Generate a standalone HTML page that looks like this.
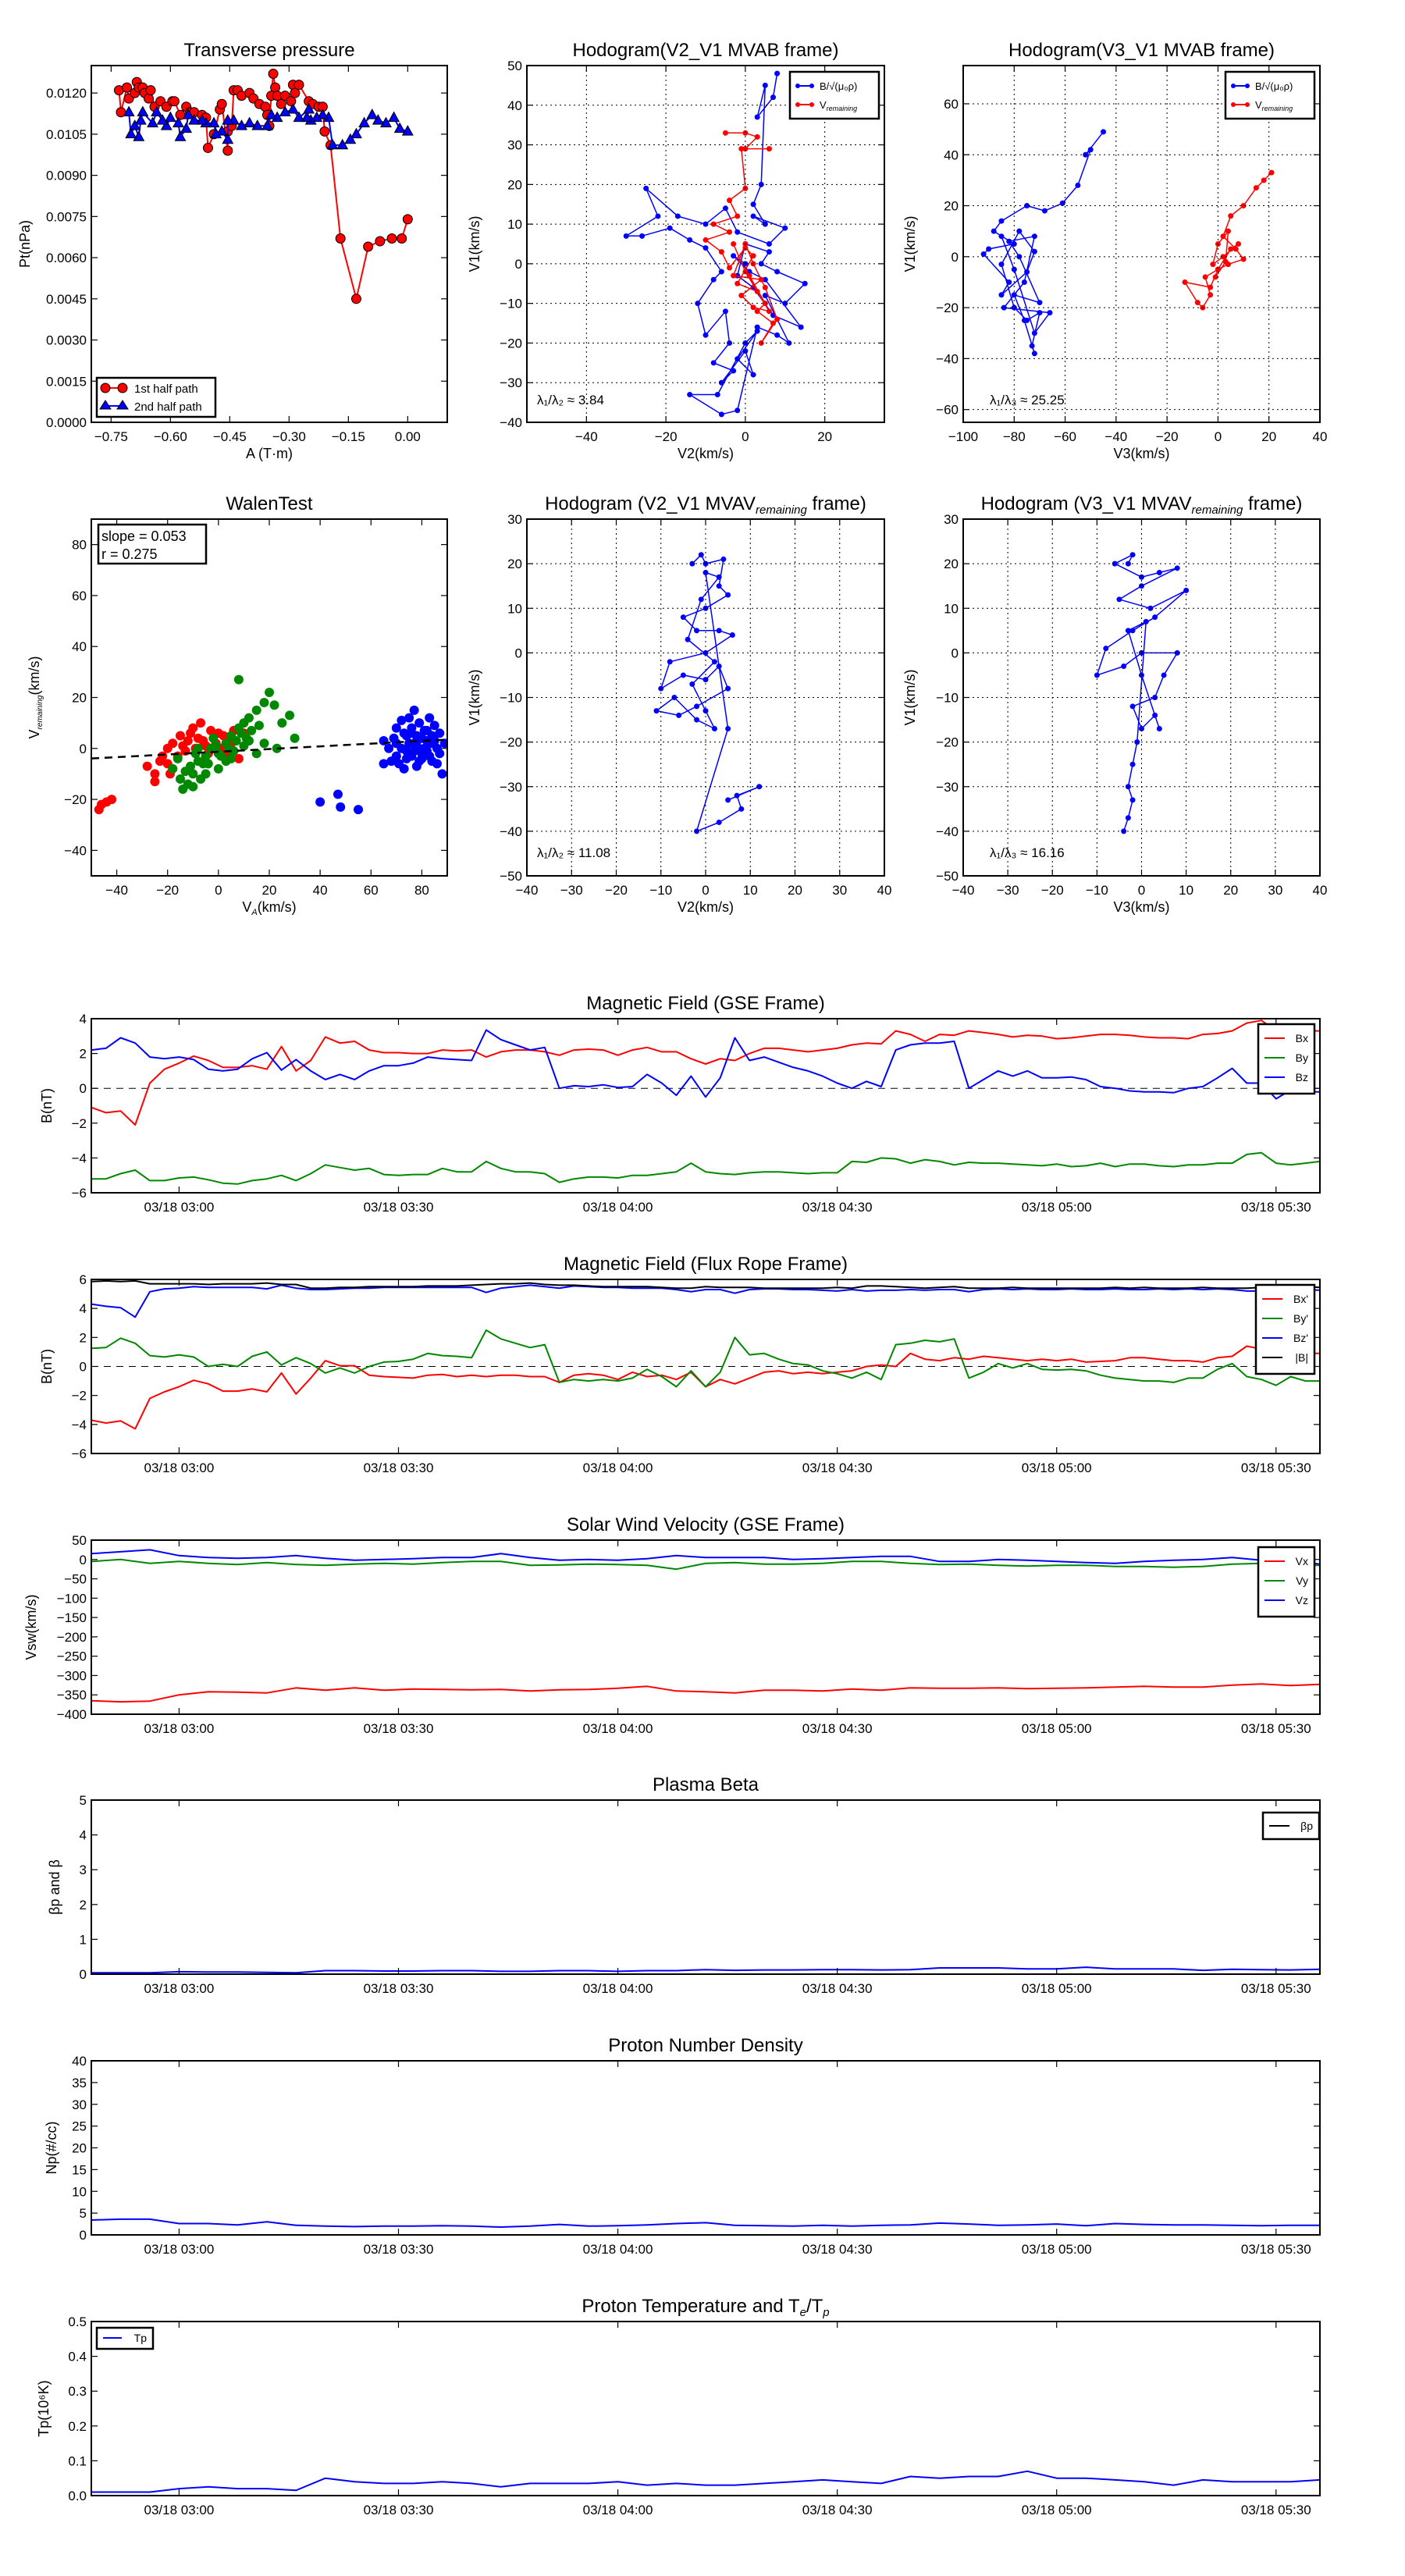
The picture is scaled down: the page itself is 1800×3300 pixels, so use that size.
<!DOCTYPE html>
<html><head><meta charset="utf-8"><style>
html,body{margin:0;padding:0;background:#fff}
svg{display:block;font-family:"Liberation Sans","DejaVu Sans",sans-serif}
</style></head><body>
<svg id="fig" width="1800" height="3300" viewBox="0 0 1800 3300" xmlns="http://www.w3.org/2000/svg"></svg>
<script>
// ---------------- DATA ----------------
const ptRedA=[-0.73,-0.725,-0.71,-0.705,-0.69,-0.685,-0.68,-0.67,-0.665,-0.655,-0.65,-0.64,-0.625,-0.61,-0.595,-0.59,-0.575,-0.56,-0.55,-0.54,-0.52,-0.51,-0.505,-0.49,-0.475,-0.47,-0.455,-0.455,-0.445,-0.44,-0.43,-0.42,-0.40,-0.39,-0.375,-0.36,-0.355,-0.35,-0.345,-0.34,-0.335,-0.33,-0.32,-0.31,-0.295,-0.29,-0.285,-0.275,-0.25,-0.24,-0.225,-0.215,-0.21,-0.195,-0.17,-0.13,-0.1,-0.07,-0.04,-0.015,0];
const ptRedP=[0.0121,0.0113,0.0122,0.0118,0.0120,0.0124,0.0122,0.0122,0.0120,0.0118,0.0121,0.0115,0.0117,0.0115,0.0117,0.0117,0.0112,0.0115,0.0113,0.0113,0.0112,0.0111,0.0100,0.0105,0.0114,0.0116,0.0099,0.0106,0.0108,0.0121,0.0121,0.0119,0.0120,0.0118,0.0116,0.0115,0.0112,0.0108,0.0119,0.0127,0.0122,0.0119,0.0116,0.0119,0.0117,0.0123,0.0120,0.0123,0.0117,0.0116,0.0115,0.0115,0.0106,0.0101,0.0067,0.0045,0.0064,0.0066,0.0067,0.0067,0.0074];
const ptBlueA=[0,-0.02,-0.035,-0.055,-0.075,-0.09,-0.11,-0.13,-0.145,-0.165,-0.19,-0.2,-0.215,-0.23,-0.245,-0.255,-0.25,-0.275,-0.29,-0.31,-0.33,-0.345,-0.355,-0.38,-0.4,-0.42,-0.44,-0.455,-0.455,-0.47,-0.485,-0.49,-0.51,-0.52,-0.54,-0.555,-0.56,-0.575,-0.58,-0.6,-0.61,-0.62,-0.635,-0.645,-0.67,-0.675,-0.68,-0.69,-0.7,-0.705];
const ptBlueP=[0.0106,0.0107,0.0111,0.0109,0.0110,0.0112,0.0109,0.0105,0.0103,0.0101,0.0101,0.0111,0.0112,0.0111,0.0110,0.0111,0.0114,0.0111,0.0114,0.0113,0.0111,0.0112,0.0108,0.0108,0.0109,0.0108,0.0110,0.0110,0.0103,0.0106,0.0105,0.0109,0.0109,0.0110,0.0110,0.0112,0.0107,0.0104,0.0109,0.0111,0.0108,0.0110,0.0113,0.0109,0.0113,0.0110,0.0104,0.0108,0.0105,0.0113];

const h1BlueX=[8,7,3,5,4,2,5,2,10,6,-2,-5,-10,-17,-25,-22,-30,-26,-19,-14,-10,-6,-8,-12,-10,-5,-4,-8,-3,-6,0,2,-2,3,0,-7,-14,-6,-2,3,8,11,5,10,15,8,4,6,0,-2,2,7,14,5,1,-3,0];
const h1BlueY=[48,42,37,45,20,15,10,12,9,5,8,14,10,12,19,12,7,7,9,6,4,-2,-4,-10,-18,-12,-20,-25,-27,-30,-22,-28,-24,-17,-20,-33,-33,-38,-37,-16,-18,-20,-8,-10,-5,-2,0,3,5,-3,-6,-13,-16,-4,-2,2,0];
const h1RedX=[-5,0,3,0,6,-1,0,-4,-2,-8,-4,-10,-6,-4,0,2,-2,3,1,5,3,7,4,8,5,2,0,-3,4,-1,2,6,0,-3];
const h1RedY=[33,33,32,29,29,29,19,16,12,10,8,6,3,-1,4,2,-5,-7,-3,-10,-12,-15,-20,-14,-6,0,5,-3,-4,-8,-11,-12,-2,5];
const h2BlueX=[-45,-52,-50,-55,-61,-68,-75,-85,-88,-80,-90,-92,-82,-85,-75,-72,-78,-85,-80,-75,-70,-73,-72,-76,-80,-70,-78,-82,-72,-76,-84,-66,-72,-80,-85];
const h2BlueY=[49,40,42,28,21,18,20,14,10,5,3,1,-10,-15,-6,2,10,-3,-20,-25,-22,-35,-38,-25,-15,-18,0,6,8,-10,-20,-22,-30,-5,8];
const h2RedX=[21,18,15,10,5,2,7,10,4,0,-5,-3,-6,-8,-13,-3,0,5,8,2,-2,0,4,3,-1];
const h2RedY=[33,30,27,20,16,8,3,-1,-3,-5,-8,-15,-20,-18,-10,-12,-5,3,5,0,-3,5,10,-2,-8];
const h4X=[-3,-1,0,4,3,5,0,-5,-2,3,6,0,-8,-10,-5,0,3,5,-2,-6,-11,-7,-2,2,0,-3,2,-4,-1,3,0,5,-2,3,8,7,12,5];
const h4Y=[20,22,20,21,15,13,10,8,5,5,4,0,-2,-8,-5,-6,-3,-8,-12,-14,-13,-10,-15,-17,-13,-7,-2,3,12,17,18,-17,-40,-38,-35,-32,-30,-33];
const h5X=[-3,-2,-6,0,4,8,0,-5,2,10,3,-2,-8,-10,-4,0,8,5,3,-2,0,3,4,0,-3,1,-1,-2,-3,-2,-3,-4];
const h5Y=[20,22,20,17,18,19,15,12,10,14,8,5,1,-5,-3,0,0,-5,-10,-12,-17,-14,-17,-5,5,7,-20,-25,-30,-33,-37,-40];
const wRedX=[-47,-46,-44,-42,-28,-25,-22,-20,-18,-15,-12,-10,-8,-5,-3,0,2,5,8,-18,-25,-13,-7,3,10,-20,-16,-14,-11,-9,-6,-4,-1,1,4,6,-23,-19];
const wRedY=[-24,-22,-21,-20,-7,-10,-3,0,2,5,3,8,4,1,7,6,5,2,-4,-8,-13,-1,10,-2,6,-6,-3,1,6,0,3,-2,2,0,4,7,-5,-10];
const wGrnX=[-18,-15,-12,-10,-8,-5,-3,0,3,5,8,10,12,15,18,20,22,25,28,30,23,18,15,10,5,0,-5,-10,-13,-8,-2,8,3,12,-6,-16,-11,-7,-4,1,4,7,9,13,16,-14,-9,-1,6,11];
const wGrnY=[-8,-12,-14,-10,-5,-3,0,-2,2,5,8,10,3,15,18,22,17,10,13,4,0,2,-2,1,-4,-8,-10,-15,-9,0,4,27,-5,12,-6,-4,-7,-12,-6,-3,0,3,6,7,9,-16,-2,1,-1,4];
const wBluX=[65,68,70,72,74,75,77,78,80,82,84,86,88,89,70,73,76,79,81,83,85,78,40,47,48,55,65,87,67,69,71,73,74,75,76,77,78,79,80,81,82,83,84,85,86,87,72,76,80,84,74,78,82,70];
const wBluY=[-6,-5,-3,0,5,12,15,5,-2,3,-5,0,-10,2,8,-8,-3,10,7,12,3,-7,-21,-18,-23,-24,3,6,0,4,-6,6,-4,2,8,-1,1,-5,4,0,7,-3,2,9,-6,-2,11,6,-4,5,-1,3,-1,2];
const wSlope=0.053, wIntercept=-1.3;

const tB=[0,2,4,6,8,10,12,14,16,18,20,22,24,26,28,30,32,34,36,38,40,42,44,46,48,50,52,54,56,58,60,62,64,66,68,70,72,74,76,78,80,82,84,86,88,90,92,94,96,98,100,102,104,106,108,110,112,114,116,118,120,122,124,126,128,130,132,134,136,138,140,142,144,146,148,150,152,154,156,158,160,162,164,166,168];
const bxGSE=[-1.1,-1.4,-1.3,-2.1,0.3,1.1,1.45,1.85,1.6,1.2,1.2,1.3,1.1,2.4,1.0,1.6,2.95,2.6,2.7,2.2,2.05,2.05,2.0,2.0,2.2,2.15,2.2,1.8,2.1,2.2,2.2,2.1,1.9,2.2,2.25,2.2,1.9,2.2,2.35,2.1,2.1,1.7,1.4,1.7,1.6,2.0,2.3,2.3,2.2,2.1,2.2,2.3,2.5,2.6,2.55,3.3,3.1,2.7,3.1,3.05,3.3,3.2,3.1,2.95,3.05,3.0,2.85,2.9,3.0,3.1,3.1,3.05,2.95,2.9,2.9,2.85,3.1,3.15,3.3,3.75,3.9,3.3,3.2,3.3,3.3];
const byGSE=[-5.2,-5.2,-4.9,-4.7,-5.3,-5.3,-5.15,-5.1,-5.25,-5.45,-5.5,-5.3,-5.2,-5.0,-5.3,-4.9,-4.4,-4.55,-4.7,-4.6,-4.95,-5.0,-4.95,-4.95,-4.6,-4.8,-4.8,-4.2,-4.6,-4.8,-4.8,-4.9,-5.4,-5.2,-5.1,-5.1,-5.15,-5.0,-5.0,-4.9,-4.8,-4.3,-4.8,-4.9,-4.95,-4.85,-4.8,-4.8,-4.85,-4.9,-4.85,-4.85,-4.2,-4.25,-4.0,-4.05,-4.3,-4.1,-4.2,-4.4,-4.25,-4.3,-4.3,-4.35,-4.4,-4.45,-4.35,-4.5,-4.45,-4.3,-4.5,-4.35,-4.35,-4.45,-4.5,-4.4,-4.4,-4.3,-4.3,-3.8,-3.7,-4.3,-4.4,-4.3,-4.2];
const bzGSE=[2.2,2.3,2.9,2.6,1.8,1.7,1.8,1.65,1.1,1.0,1.1,1.7,2.05,1.05,1.65,1.0,0.5,0.8,0.5,1.0,1.3,1.3,1.45,1.8,1.7,1.65,1.6,3.35,2.8,2.5,2.2,2.35,0.0,0.15,0.1,0.2,0.05,0.1,0.8,0.3,-0.4,0.7,-0.5,0.6,2.9,1.6,1.8,1.5,1.2,1.0,0.7,0.3,0.0,0.4,0.1,2.2,2.5,2.6,2.6,2.7,0.0,0.5,1.0,0.7,1.0,0.6,0.6,0.65,0.5,0.1,0.0,-0.15,-0.2,-0.2,-0.25,0.0,0.1,0.6,1.15,0.3,0.3,-0.6,-0.1,-0.2,-0.2];
const bxFR=[-3.7,-3.9,-3.75,-4.3,-2.2,-1.75,-1.4,-0.95,-1.2,-1.7,-1.7,-1.55,-1.75,-0.45,-1.9,-0.8,0.4,0.05,0.05,-0.6,-0.7,-0.75,-0.8,-0.6,-0.55,-0.7,-0.6,-0.7,-0.6,-0.6,-0.7,-0.7,-1.1,-0.6,-0.5,-0.6,-0.9,-0.4,-0.7,-0.6,-0.9,-0.4,-1.4,-0.9,-1.2,-0.8,-0.4,-0.3,-0.5,-0.4,-0.5,-0.4,-0.3,0.0,0.1,0.0,0.9,0.5,0.4,0.6,0.5,0.7,0.6,0.5,0.4,0.5,0.4,0.5,0.3,0.35,0.4,0.6,0.6,0.5,0.4,0.4,0.3,0.6,0.7,1.4,1.2,1.3,1.0,0.9,0.9];
const byFR=[1.25,1.3,1.95,1.6,0.75,0.65,0.8,0.65,0.0,0.15,0.0,0.7,1.0,0.1,0.6,0.2,-0.45,-0.1,-0.45,0.0,0.3,0.35,0.5,0.9,0.75,0.7,0.6,2.5,1.9,1.6,1.3,1.5,-1.1,-0.9,-1.0,-0.9,-1.0,-0.8,-0.2,-0.7,-1.4,-0.3,-1.4,-0.4,2.0,0.8,0.9,0.5,0.2,0.1,-0.3,-0.5,-0.8,-0.4,-0.9,1.5,1.6,1.8,1.7,1.9,-0.8,-0.4,0.2,-0.1,0.2,-0.2,-0.25,-0.2,-0.3,-0.6,-0.8,-0.9,-1.0,-1.0,-1.1,-0.8,-0.8,-0.2,0.2,-0.7,-0.9,-1.3,-0.7,-1.0,-1.0];
const bzFR=[4.3,4.15,4.05,3.4,5.15,5.35,5.4,5.5,5.45,5.45,5.45,5.45,5.35,5.6,5.4,5.3,5.3,5.35,5.4,5.4,5.45,5.45,5.45,5.45,5.45,5.45,5.45,5.1,5.4,5.5,5.6,5.5,5.4,5.55,5.5,5.45,5.45,5.4,5.4,5.4,5.3,5.15,5.3,5.3,5.05,5.3,5.35,5.35,5.3,5.3,5.25,5.2,5.3,5.2,5.25,5.25,5.3,5.25,5.3,5.3,5.15,5.3,5.35,5.3,5.35,5.3,5.3,5.35,5.3,5.3,5.35,5.3,5.3,5.35,5.3,5.35,5.3,5.35,5.3,5.2,5.2,5.15,5.3,5.3,5.25];
const bmFR=[5.85,5.9,5.85,5.9,5.7,5.7,5.7,5.7,5.65,5.7,5.7,5.7,5.75,5.65,5.65,5.4,5.4,5.45,5.45,5.5,5.5,5.5,5.5,5.55,5.55,5.55,5.6,5.65,5.7,5.7,5.75,5.65,5.6,5.6,5.55,5.5,5.5,5.5,5.5,5.45,5.4,5.4,5.5,5.45,5.45,5.45,5.4,5.4,5.4,5.4,5.4,5.45,5.4,5.55,5.55,5.5,5.45,5.4,5.45,5.5,5.4,5.4,5.4,5.45,5.4,5.4,5.4,5.4,5.4,5.4,5.45,5.4,5.45,5.4,5.4,5.4,5.45,5.4,5.4,5.4,5.45,5.45,5.45,5.5,5.45];
const tV=[0,4,8,12,16,20,24,28,32,36,40,44,48,52,56,60,64,68,72,76,80,84,88,92,96,100,104,108,112,116,120,124,128,132,136,140,144,148,152,156,160,164,168];
const vx=[-365,-368,-366,-350,-342,-343,-345,-332,-338,-332,-338,-335,-336,-337,-336,-340,-337,-336,-333,-328,-340,-342,-345,-338,-338,-340,-335,-338,-332,-333,-333,-332,-334,-333,-332,-330,-328,-330,-330,-325,-322,-326,-323];
const vy=[-5,0,-10,-5,-10,-13,-8,-13,-15,-12,-10,-12,-8,-5,-5,-15,-14,-12,-13,-15,-25,-10,-8,-12,-12,-10,-5,-5,-10,-13,-12,-15,-17,-15,-15,-18,-18,-20,-18,-12,-10,-15,-15];
const vz=[15,20,25,10,5,3,5,10,3,-2,0,2,5,5,15,5,-2,0,-2,2,10,5,5,5,0,2,5,8,8,-5,-5,0,-2,-5,-8,-10,-5,-2,0,5,-2,-2,-12];
const betaP=[.04,.04,.04,.07,.06,.06,.05,.04,.1,.1,.09,.09,.1,.1,.08,.08,.1,.1,.08,.1,.1,.13,.11,.12,.12,.13,.13,.12,.13,.18,.18,.18,.15,.15,.2,.15,.15,.15,.11,.14,.13,.12,.14];
const np=[3.4,3.6,3.6,2.6,2.6,2.3,3.0,2.2,2.0,1.9,2.0,2.0,2.1,2.0,1.8,2.0,2.4,2.0,2.1,2.3,2.6,2.8,2.2,2.1,2.0,2.2,2.0,2.2,2.3,2.7,2.5,2.2,2.3,2.5,2.1,2.6,2.4,2.3,2.3,2.2,2.1,2.2,2.2];
const tp=[.01,.01,.01,.02,.025,.02,.02,.015,.05,.04,.035,.035,.04,.035,.025,.035,.035,.035,.04,.03,.035,.03,.03,.035,.04,.045,.04,.035,.055,.05,.055,.055,.07,.05,.05,.045,.04,.03,.045,.04,.04,.04,.045];
const timeTicks=[12,42,72,102,132,162];
const timeTickLabels=["03/18 03:00","03/18 03:30","03/18 04:00","03/18 04:30","03/18 05:00","03/18 05:30"];

// ---------------- HELPERS ----------------
const NS="http://www.w3.org/2000/svg";
const fig=document.getElementById('fig');
function mk(tag,attrs,parent){const e=document.createElementNS(NS,tag);for(const k in attrs)e.setAttribute(k,attrs[k]);(parent||fig).appendChild(e);return e;}
function txt(s,x,y,size,anchor,parent,extra){const e=mk('text',Object.assign({x:x,y:y,'font-size':size,'text-anchor':anchor||'middle','fill':'#000'},extra||{}),parent);e.textContent=s;return e;}
function fmt(v,d){let s=v.toFixed(d);if(v<0)s='\u2212'+s.slice(1);return s;}

function makePanel(name,x0,y0,w,h,xmin,xmax,ymin,ymax){
  const g=mk('g',{});
  
  
  const sx=v=>x0+(v-xmin)/(xmax-xmin)*w;
  const sy=v=>y0+h-(v-ymin)/(ymax-ymin)*h;
  const clipId='clip-'+name;
  const cp=mk('clipPath',{id:clipId},g);
  mk('rect',{x:x0,y:y0,width:w,height:h},cp);
  const plot=mk('g',{'clip-path':'url(#'+clipId+')'},g);
  
  
  return {g,plot,sx,sy,x0,y0,w,h};
}
function frame(P){const r=mk('rect',{x:P.x0,y:P.y0,width:P.w,height:P.h,fill:'none',stroke:'#000','stroke-width':2},P.g);
  
  }
function xTicks(P,vals,labels,grid,size){
  const g=mk('g',{},P.g);
  
  
  vals.forEach((v,i)=>{const x=P.sx(v);
    if(grid)mk('line',{x1:x,x2:x,y1:P.y0,y2:P.y0+P.h,stroke:'#000','stroke-width':1,'stroke-dasharray':'2,4'},g);
    mk('line',{x1:x,x2:x,y1:P.y0+P.h,y2:P.y0+P.h-8,stroke:'#000','stroke-width':1.2},g);
    mk('line',{x1:x,x2:x,y1:P.y0,y2:P.y0+8,stroke:'#000','stroke-width':1.2},g);
    txt(labels[i],x,P.y0+P.h+24,size||17,'middle',g);});
}
function yTicks(P,vals,labels,grid,size){
  const g=mk('g',{},P.g);
  
  
  vals.forEach((v,i)=>{const y=P.sy(v);
    if(grid)mk('line',{x1:P.x0,x2:P.x0+P.w,y1:y,y2:y,stroke:'#000','stroke-width':1,'stroke-dasharray':'2,4'},g);
    mk('line',{x1:P.x0,x2:P.x0+8,y1:y,y2:y,stroke:'#000','stroke-width':1.2},g);
    mk('line',{x1:P.x0+P.w,x2:P.x0+P.w-8,y1:y,y2:y,stroke:'#000','stroke-width':1.2},g);
    txt(labels[i],P.x0-6,y+6,size||17,'end',g);});
}
function title(P,s){const t=txt(s,P.x0+P.w/2,P.y0-12,24,'middle',P.g);
  
  return t;}
function xlabel(P,s,dy){const t=txt(s,P.x0+P.w/2,P.y0+P.h+(dy||60),18,'middle',P.g);
  
  return t;}
function ylabel(P,s,x){const yc=P.y0+P.h/2;const t=txt(s,x,yc,18,'middle',P.g,{transform:'rotate(-90 '+x+' '+yc+')'});
  
  return t;}
function series(P,xs,ys,color,name,w){
  const d=xs.map((x,i)=>(i?'L':'M')+P.sx(x).toFixed(1)+' '+P.sy(ys[i]).toFixed(1)).join('');
  const p=mk('path',{d:d,fill:'none',stroke:color,'stroke-width':w||2,'stroke-linejoin':'round'},P.plot);
  
  return p;}
function dots(P,xs,ys,color,name,r,shape){
  const g=mk('g',{},P.plot);
  
  
  xs.forEach((x,i)=>{const cx=P.sx(x),cy=P.sy(ys[i]);
    if(shape==='tri'){mk('polygon',{points:`${cx},${cy-r*1.2} ${cx-r*1.1},${cy+r*0.8} ${cx+r*1.1},${cy+r*0.8}`,fill:color,stroke:'#000','stroke-width':1},g);}
    else mk('circle',{cx:cx,cy:cy,r:r,fill:color,stroke:shape==='edge'?'#000':'none','stroke-width':1},g);});
  return g;}
function legendBox(x,y,w,h,name){const r=mk('rect',{x,y,width:w,height:h,fill:'#fff',stroke:'#000','stroke-width':2.5});
  
  return r;}

// ---------------- TRANSVERSE PRESSURE ----------------
(function(){
  const P=makePanel('transverse-pressure-chart',117,84,456,457,-0.8,0.1,0,0.013);
  series(P,ptRedA,ptRedP,'#f00','first-half-line',2);
  dots(P,ptRedA,ptRedP,'#f00','first-half-markers',6,'edge');
  series(P,ptBlueA,ptBlueP,'#00f','second-half-line',2);
  dots(P,ptBlueA,ptBlueP,'#00f','second-half-markers',6,'tri');
  frame(P);
  xTicks(P,[-0.75,-0.6,-0.45,-0.3,-0.15,0],['-0.75','-0.60','-0.45','-0.30','-0.15','0.00'].map(s=>s.replace('-','\u2212')));
  const yv=[0,0.0015,0.003,0.0045,0.006,0.0075,0.009,0.0105,0.012];
  yTicks(P,yv,yv.map(v=>v.toFixed(4)));
  title(P,'Transverse pressure');
  xlabel(P,'A (T\u00b7m)',46);
  ylabel(P,'Pt(nPa)',38);
  legendBox(124,484,152,50,'pressure-legend');
  const lg=mk('g',{});
  
  
  mk('line',{x1:135,x2:157,y1:497,y2:497,stroke:'#f00','stroke-width':2},lg);
  mk('circle',{cx:135,cy:497,r:6,fill:'#f00',stroke:'#000'},lg);mk('circle',{cx:157,cy:497,r:6,fill:'#f00',stroke:'#000'},lg);
  txt('1st half path',172,503,15,'start',lg);
  mk('line',{x1:135,x2:157,y1:520,y2:520,stroke:'#00f','stroke-width':2},lg);
  mk('polygon',{points:'135,513 128,524 142,524',fill:'#00f',stroke:'#000'},lg);mk('polygon',{points:'157,513 150,524 164,524',fill:'#00f',stroke:'#000'},lg);
  txt('2nd half path',172,526,15,'start',lg);
})();

function hodoLegend(x,y,name){
  legendBox(x,y,114,60,name);
  const lg=mk('g',{});
  
  
  mk('line',{x1:x+8,x2:x+30,y1:y+18,y2:y+18,stroke:'#00f','stroke-width':2},lg);
  mk('circle',{cx:x+10,cy:y+18,r:3,fill:'#00f'},lg);mk('circle',{cx:x+28,cy:y+18,r:3,fill:'#00f'},lg);
  txt('B/\u221a(\u03bc\u2080\u03c1)',x+38,y+23,13,'start',lg);
  mk('line',{x1:x+8,x2:x+30,y1:y+42,y2:y+42,stroke:'#f00','stroke-width':2},lg);
  mk('circle',{cx:x+10,cy:y+42,r:3,fill:'#f00'},lg);mk('circle',{cx:x+28,cy:y+42,r:3,fill:'#f00'},lg);
  const t=txt('V',x+38,y+47,13,'start',lg);
  const sub=mk('tspan',{'font-size':9,dy:3,'font-style':'italic'},t);sub.textContent='remaining';
}
function range(a,b,s){const r=[];for(let v=a;v<=b+1e-9;v+=s)r.push(v);return r;}

// ---------------- HODOGRAM V2_V1 MVAB ----------------
(function(){
  const P=makePanel('hodogram-v2-v1-mvab',675,84,458,457,-55,35,-40,50);
  const xv=[-40,-20,0,20],yv=range(-40,50,10);
  xTicks(P,xv,xv.map(v=>fmt(v,0)),true);yTicks(P,yv,yv.map(v=>fmt(v,0)),true);
  series(P,h1BlueX,h1BlueY,'#00f','b-field-path',1.5);dots(P,h1BlueX,h1BlueY,'#00f','b-field-points',3.5);
  series(P,h1RedX,h1RedY,'#f00','v-remaining-path',1.5);dots(P,h1RedX,h1RedY,'#f00','v-remaining-points',3.5);
  frame(P);
  title(P,'Hodogram(V2_V1 MVAB frame)');xlabel(P,'V2(km/s)',46);ylabel(P,'V1(km/s)',614);
  hodoLegend(1012,92,'hodogram-v2-legend');
  const t=txt('\u03bb\u2081/\u03bb\u2082 \u2248 3.84',688,518,17,'start');
  
  
})();
// ---------------- HODOGRAM V3_V1 MVAB ----------------
(function(){
  const P=makePanel('hodogram-v3-v1-mvab',1234,84,457,457,-100,40,-65,75);
  const xv=range(-100,40,20),yv=range(-60,60,20);
  xTicks(P,xv,xv.map(v=>fmt(v,0)),true);yTicks(P,yv,yv.map(v=>fmt(v,0)),true);
  series(P,h2BlueX,h2BlueY,'#00f','b-field-path',1.5);dots(P,h2BlueX,h2BlueY,'#00f','b-field-points',3.5);
  series(P,h2RedX,h2RedY,'#f00','v-remaining-path',1.5);dots(P,h2RedX,h2RedY,'#f00','v-remaining-points',3.5);
  frame(P);
  title(P,'Hodogram(V3_V1 MVAB frame)');xlabel(P,'V3(km/s)',46);ylabel(P,'V1(km/s)',1172);
  hodoLegend(1570,92,'hodogram-v3-legend');
  const t=txt('\u03bb\u2081/\u03bb\u2083 \u2248 25.25',1268,518,17,'start');
  
  
})();
// ---------------- WALEN TEST ----------------
(function(){
  const P=makePanel('walen-test-chart',117,665,456,457,-50,90,-50,90);
  const xv=range(-40,80,20),yv=range(-40,80,20);
  xTicks(P,xv,xv.map(v=>fmt(v,0)));yTicks(P,yv,yv.map(v=>fmt(v,0)));
  dots(P,wRedX,wRedY,'#f00','walen-points-red',6);
  dots(P,wGrnX,wGrnY,'#080','walen-points-green',6);
  dots(P,wBluX,wBluY,'#00f','walen-points-blue',6);
  const fit=mk('line',{x1:P.sx(-50),y1:P.sy(wIntercept+wSlope*-50),x2:P.sx(90),y2:P.sy(wIntercept+wSlope*90),stroke:'#000','stroke-width':2.5,'stroke-dasharray':'10,7'},P.plot);
  
  
  frame(P);
  title(P,'WalenTest');
  const xl=xlabel(P,'V',46);const s=mk('tspan',{'font-size':11,dy:4,'font-style':'italic'},xl);s.textContent='A';const s2=mk('tspan',{dy:-4},xl);s2.textContent='(km/s)';
  const yl=ylabel(P,'V',50);const s3=mk('tspan',{'font-size':10,dy:4,'font-style':'italic'},yl);s3.textContent='remaining';const s4=mk('tspan',{dy:-4},yl);s4.textContent='(km/s)';
  legendBox(126,672,138,50,'walen-stats-box');
  const t1=txt('slope = 0.053',130,693,18,'start');
  
  
  const t2=txt('r = 0.275',130,716,18,'start');
  
  
})();
// ---------------- MVAV HODOGRAMS ----------------
(function(){
  const P=makePanel('hodogram-v2-v1-mvav',675,665,458,457,-40,40,-50,30);
  const xv=range(-40,40,10),yv=range(-50,30,10);
  xTicks(P,xv,xv.map(v=>fmt(v,0)),true);yTicks(P,yv,yv.map(v=>fmt(v,0)),true);
  series(P,h4X,h4Y,'#00f','velocity-path',1.5);dots(P,h4X,h4Y,'#00f','velocity-points',3.5);
  frame(P);
  const t=title(P,'Hodogram (V2_V1 MVAV');const ts=mk('tspan',{'font-size':15,dy:5,'font-style':'italic'},t);ts.textContent='remaining';const ts2=mk('tspan',{dy:-5},t);ts2.textContent=' frame)';
  xlabel(P,'V2(km/s)',46);ylabel(P,'V1(km/s)',614);
  const l=txt('\u03bb\u2081/\u03bb\u2082 \u2248 11.08',688,1098,17,'start');
  
  
})();
(function(){
  const P=makePanel('hodogram-v3-v1-mvav',1234,665,457,457,-40,40,-50,30);
  const xv=range(-40,40,10),yv=range(-50,30,10);
  xTicks(P,xv,xv.map(v=>fmt(v,0)),true);yTicks(P,yv,yv.map(v=>fmt(v,0)),true);
  series(P,h5X,h5Y,'#00f','velocity-path',1.5);dots(P,h5X,h5Y,'#00f','velocity-points',3.5);
  frame(P);
  const t=title(P,'Hodogram (V3_V1 MVAV');const ts=mk('tspan',{'font-size':15,dy:5,'font-style':'italic'},t);ts.textContent='remaining';const ts2=mk('tspan',{dy:-5},t);ts2.textContent=' frame)';
  xlabel(P,'V3(km/s)',46);ylabel(P,'V1(km/s)',1172);
  const l=txt('\u03bb\u2081/\u03bb\u2083 \u2248 16.16',1268,1098,17,'start');
  
  
})();

// ---------------- TIME SERIES ----------------
function tsPanel(name,top,ymin,ymax,yv,yl,ylx,ttl,dec){
  const P=makePanel(name,117,top,1574,223,0,168,ymin,ymax);
  xTicks(P,timeTicks,timeTickLabels,false,17);
  yTicks(P,yv,yv.map(v=>fmt(v,dec||0)));
  ylabel(P,yl,ylx);
  const t=title(P,ttl);
  return {P,t};
}
function tsLegend(x,y,w,items,name){
  legendBox(x,y,w,items.length*25+14,name);
  const lg=mk('g',{});
  
  
  items.forEach((it,i)=>{const yy=y+18+i*25;
    mk('line',{x1:x+8,x2:x+34,y1:yy,y2:yy,stroke:it[1],'stroke-width':2},lg);
    txt(it[0],x+w-8,yy+5,14,'end',lg);});
}
(function(){
  const {P}=tsPanel('magnetic-field-gse-chart',1305,-6,4,range(-6,4,2),'B(nT)',66,'Magnetic Field (GSE Frame)');
  const z=mk('line',{x1:P.x0,x2:P.x0+P.w,y1:P.sy(0),y2:P.sy(0),stroke:'#000','stroke-width':1,'stroke-dasharray':'9,7'},P.plot);
  
  
  series(P,tB,bxGSE,'#f00','bx-line');series(P,tB,byGSE,'#080','by-line');series(P,tB,bzGSE,'#00f','bz-line');
  frame(P);
  tsLegend(1612,1312,72,[['Bx','#f00'],['By','#080'],['Bz','#00f']],'gse-legend');
})();
(function(){
  const {P}=tsPanel('magnetic-field-flux-rope-chart',1639,-6,6,range(-6,6,2),'B(nT)',66,'Magnetic Field (Flux Rope Frame)');
  const z=mk('line',{x1:P.x0,x2:P.x0+P.w,y1:P.sy(0),y2:P.sy(0),stroke:'#000','stroke-width':1,'stroke-dasharray':'9,7'},P.plot);
  
  
  series(P,tB,bxFR,'#f00','bx-prime-line');series(P,tB,byFR,'#080','by-prime-line');series(P,tB,bzFR,'#00f','bz-prime-line');series(P,tB,bmFR,'#000','b-magnitude-line');
  frame(P);
  tsLegend(1609,1646,75,[["Bx'",'#f00'],["By'",'#080'],["Bz'",'#00f'],['|B|','#000']],'flux-rope-legend');
})();
(function(){
  const {P}=tsPanel('solar-wind-velocity-chart',1973,-400,50,range(-400,50,50),'Vsw(km/s)',46,'Solar Wind Velocity (GSE Frame)');
  series(P,tV,vx,'#f00','vx-line');series(P,tV,vy,'#080','vy-line');series(P,tV,vz,'#00f','vz-line');
  frame(P);
  tsLegend(1612,1982,72,[['Vx','#f00'],['Vy','#080'],['Vz','#00f']],'velocity-legend');
})();
(function(){
  const {P}=tsPanel('plasma-beta-chart',2306,0,5,range(0,5,1),'\u03b2p and \u03b2',76,'Plasma Beta');
  series(P,tV,betaP,'#00f','beta-line');
  frame(P);
  legendBox(1618,2322,72,34,'beta-legend');
  const lg=mk('g',{});
  
  
  mk('line',{x1:1626,x2:1652,y1:2339,y2:2339,stroke:'#000','stroke-width':2},lg);
  txt('\u03b2p',1682,2344,14,'end',lg);
})();
(function(){
  const {P}=tsPanel('proton-density-chart',2640,0,40,range(0,40,5),'Np(#/cc)',72,'Proton Number Density');
  series(P,tV,np,'#00f','density-line');
  frame(P);
})();
(function(){
  const {P,t}=tsPanel('proton-temperature-chart',2974,0,0.5,range(0,0.5,0.1),'Tp(10\u2076K)',62,'Proton Temperature and T',1);
  const a=mk('tspan',{'font-size':15,dy:5,'font-style':'italic'},t);a.textContent='e';
  const b=mk('tspan',{dy:-5},t);b.textContent='/T';
  const c=mk('tspan',{'font-size':15,dy:5,'font-style':'italic'},t);c.textContent='p';
  series(P,tV,tp,'#00f','temperature-line');
  frame(P);
  legendBox(124,2982,72,27,'temperature-legend');
  const lg=mk('g',{});
  
  
  mk('line',{x1:132,x2:156,y1:2995,y2:2995,stroke:'#00f','stroke-width':2},lg);
  txt('Tp',188,3000,14,'end',lg);
})();
</script>
</body></html>
